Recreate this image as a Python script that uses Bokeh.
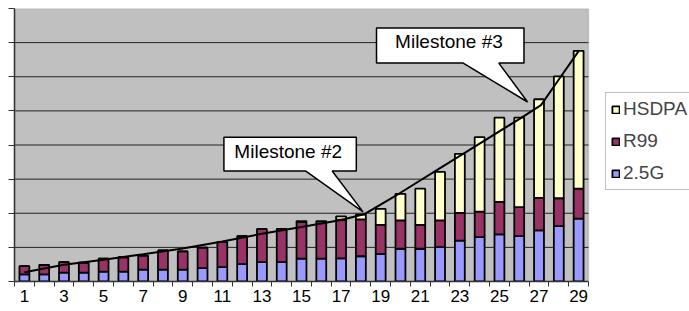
from bokeh.plotting import figure
from bokeh.models import (ColumnDataSource, FixedTicker, CustomJSTickFormatter,
                          Legend, LegendItem, Range1d, BoxAnnotation)
from bokeh.core.properties import value
from bokeh.embed import file_html
from bokeh.resources import INLINE

# ---- data -------------------------------------------------------------
categories = list(range(1, 30))
g25 = [0.21, 0.21, 0.26, 0.26, 0.29, 0.29, 0.35, 0.35, 0.35, 0.39,
       0.42, 0.51, 0.57, 0.57, 0.67, 0.67, 0.68, 0.74, 0.81, 0.96,
       0.96, 1.01, 1.20, 1.30, 1.38, 1.33, 1.50, 1.62, 1.84]
r99 = [0.24, 0.28, 0.31, 0.29, 0.38, 0.42, 0.41, 0.56, 0.53, 0.60,
       0.74, 0.82, 0.97, 0.97, 1.07, 1.04, 1.13, 1.08, 0.85, 0.83,
       0.70, 0.78, 0.81, 0.75, 0.95, 0.85, 0.95, 0.82, 0.88]
hsdpa = [0, 0, 0, 0, 0, 0, 0, 0, 0, 0,
         0, 0, 0, 0, 0.03, 0.06, 0.10, 0.14, 0.47, 0.78,
         1.06, 1.42, 1.73, 2.18, 2.47, 2.62, 2.89, 3.57, 4.04]
series_names = ["2.5G", "R99", "HSDPA"]
tick_labels = [str(c) for c in range(1, 30, 2)]

trend_x = [1, 3, 5, 7, 9, 11, 13, 15, 17, 18.2, 20, 22, 24, 26, 27.1, 28, 29]
trend_y = [0.27, 0.49, 0.64, 0.80, 0.97, 1.17, 1.40, 1.60, 1.80, 1.98,
           2.60, 3.32, 4.04, 4.76, 5.17, 5.92, 6.75]

milestones = ["Milestone #2", "Milestone #3"]
grid_levels = [1, 2, 3, 4, 5, 6, 7]

# ---- figure -----------------------------------------------------------
FONT = "Liberation Sans"
colors = ["#9999FF", "#993366", "#FFFFCC"]
X0, X1 = 0.5, 29.5            # plot area in category units
X_END = X0 + 675 / (574 / 29)  # frame extended to hold the legend

source = ColumnDataSource(dict(cat=categories, g25=g25, r99=r99, hsdpa=hsdpa))

p = figure(output_backend="svg", toolbar_location=None,
           width=689, height=311,
           x_range=Range1d(X0, X_END), y_range=Range1d(0, 8),
           min_border_left=14, min_border_right=0,
           min_border_top=8, min_border_bottom=30)
p.background_fill_color = "white"
p.border_fill_color = "white"
p.outline_line_color = None

p.add_layout(BoxAnnotation(left=X0, right=X1, bottom=0, top=8,
                           fill_color="#C0C0C0", fill_alpha=1,
                           line_color="#808080", line_width=1.5,
                           level="underlay"))
p.segment(x0=[X0] * len(grid_levels), x1=[X1] * len(grid_levels),
          y0=grid_levels, y1=grid_levels, line_color="#222222", line_width=1)

renderers = p.vbar_stack(["g25", "r99", "hsdpa"], x="cat", width=0.5,
                         color=colors, line_color="black", line_width=1.8,
                         source=source)

p.line(trend_x, trend_y, line_color="black", line_width=2)

# callouts (box + pointer)
callout2_x = [11.08, 17.77, 17.77, 16.55, 18.11, 15.2, 11.08]
callout2_y = [4.23, 4.23, 3.24, 3.24, 2.04, 3.24, 3.24]
callout3_x = [18.79, 26.24, 26.24, 24.97, 26.42, 23.17, 18.79]
callout3_y = [7.43, 7.43, 6.40, 6.40, 5.26, 6.40, 6.40]
p.patches([callout2_x, callout3_x], [callout2_y, callout3_y],
          fill_color="white", line_color="black", line_width=1.5)
p.text(x=[14.33, 22.45], y=[3.80, 7.02], text=milestones,
       text_font=value(FONT), text_font_size="19px", text_color="black",
       text_align="center", text_baseline="middle")

# axes
xa = p.xaxis[0]
xa.bounds = (X0, X1)
xa.ticker = FixedTicker(ticks=list(range(1, 30, 2)),
                        minor_ticks=[c + 0.5 for c in range(0, 30)])
xa.major_label_overrides = {c: lbl for c, lbl in zip(range(1, 30, 2), tick_labels)}
xa.major_tick_line_color = None
xa.major_tick_out = 5
xa.major_tick_in = 0
xa.minor_tick_line_color = "#333333"
xa.minor_tick_out = 5
xa.minor_tick_in = 0
xa.axis_line_color = "#333333"
xa.axis_line_width = 1.5
xa.major_label_standoff = 3
xa.major_label_text_font = FONT
xa.major_label_text_font_size = "17px"
xa.major_label_text_color = "black"

ya = p.yaxis[0]
ya.ticker = FixedTicker(ticks=list(range(0, 9)))
ya.formatter = CustomJSTickFormatter(code="return ''")
ya.major_tick_out = 6
ya.major_tick_in = 0
ya.minor_tick_line_color = None
ya.major_label_standoff = 0
ya.major_tick_line_color = "#333333"
ya.axis_line_color = "#333333"
ya.axis_line_width = 1.5

p.xgrid.grid_line_color = None
p.ygrid.grid_line_color = None

legend = Legend(items=[LegendItem(label=series_names[2], renderers=[renderers[2]]),
                       LegendItem(label=series_names[1], renderers=[renderers[1]]),
                       LegendItem(label=series_names[0], renderers=[renderers[0]])],
                location=(591, 91), orientation="vertical")
legend.label_text_font = FONT
legend.label_text_font_size = "19px"
legend.label_height = 21
legend.glyph_width = 9
legend.glyph_height = 9
legend.label_standoff = 3
legend.spacing = 10
legend.padding = 5
legend.margin = 0
legend.border_line_color = "#808080"
legend.border_line_width = 1
legend.background_fill_color = "white"
legend.background_fill_alpha = 1
p.add_layout(legend, "center")

open("out.html", "w").write(file_html(p, INLINE))
